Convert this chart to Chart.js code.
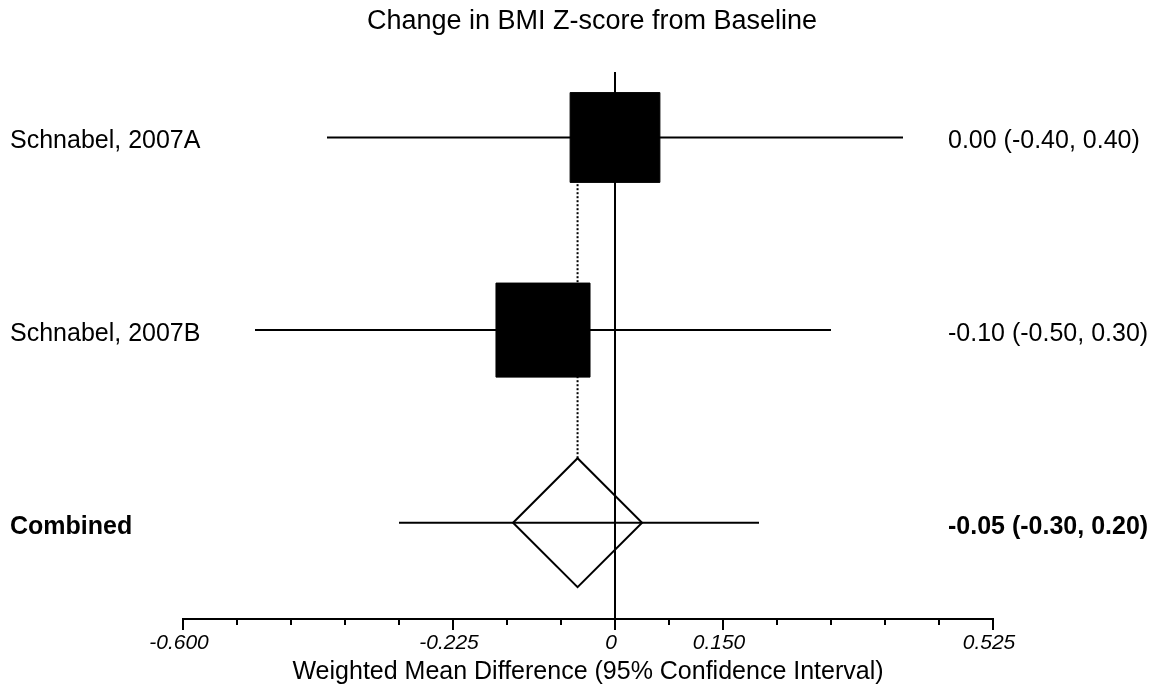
<!DOCTYPE html>
<html>
<head>
<meta charset="utf-8">
<script src="https://cdn.jsdelivr.net/npm/chart.js"></script>
<style>
  html, body { margin: 0; padding: 0; background: #fff; }
  #wrap { width: 1158px; height: 690px; }
</style>
</head>
<body>
<div id="wrap"><canvas id="forest" width="1158" height="690"></canvas></div>
<script>
// study rows, top to bottom
const studies = ['Schnabel, 2007A', 'Schnabel, 2007B', 'Combined'];
const rows = [3, 2, 1];
const estimates = [0.00, -0.10, -0.052];
const lower = [-0.40, -0.50, -0.30];
const upper = [0.40, 0.30, 0.20];
const estLabels = ['0.00 (-0.40, 0.40)', '-0.10 (-0.50, 0.30)', '-0.05 (-0.30, 0.20)'];

// x axis ticks
const tickValues = [-0.600, -0.525, -0.450, -0.375, -0.300, -0.225, -0.150, -0.075,
                    0, 0.075, 0.150, 0.225, 0.300, 0.375, 0.450, 0.525];
const majorTicks = [-0.600, -0.225, 0, 0.150, 0.525];
const majorLabels = ['-0.600', '-0.225', '0', '0.150', '0.525'];

const chartTitle = 'Change in BMI Z-score from Baseline';
const xTitle = 'Weighted Mean Difference (95% Confidence Interval)';

const FONT = '"Liberation Sans", Arial, sans-serif';

// CI lines, one dataset each
const ciSets = studies.map((s, i) => ({
    type: 'line',
    label: s + ' CI',
    data: [{x: lower[i], y: rows[i]}, {x: upper[i], y: rows[i]}],
    borderColor: '#000',
    borderWidth: 2,
    pointRadius: 0,
    order: 3
}));

// filled boxes for the studies
const boxSet = {
    type: 'scatter',
    label: 'studies',
    data: [0, 1].map(i => ({x: estimates[i], y: rows[i]})),
    pointStyle: 'rect',
    pointRadius: [63.5, 66.5],
    backgroundColor: '#000',
    borderColor: '#000',
    borderWidth: 1,
    order: 1
};

// diamond for the pooled estimate
const diamondSet = {
    type: 'scatter',
    label: 'combined',
    data: [{x: estimates[2], y: rows[2]}],
    pointStyle: 'rectRot',
    pointRadius: 64.5,
    backgroundColor: 'rgba(0,0,0,0)',
    borderColor: '#000',
    borderWidth: 2,
    order: 2
};

const forestDecor = {
    id: 'forestDecor',
    beforeDatasetsDraw(chart) {
        const {ctx, chartArea, scales: {x, y}} = chart;
        ctx.save();
        ctx.strokeStyle = '#000';
        // line of no effect
        ctx.lineWidth = 2;
        ctx.beginPath();
        ctx.moveTo(Math.round(x.getPixelForValue(0)), chartArea.top);
        ctx.lineTo(Math.round(x.getPixelForValue(0)), chartArea.bottom);
        ctx.stroke();
        // dotted line from the diamond up to the first study
        const px = x.getPixelForValue(estimates[2]);
        ctx.setLineDash([2, 2]);
        ctx.beginPath();
        ctx.moveTo(px, y.getPixelForValue(rows[2]) - 64.5);
        ctx.lineTo(px, y.getPixelForValue(rows[0]) + 45);
        ctx.stroke();
        ctx.restore();
    },
    afterDraw(chart) {
        const {ctx, chartArea, scales: {x, y}} = chart;
        const base = chartArea.bottom;
        ctx.save();
        ctx.strokeStyle = '#000';
        ctx.fillStyle = '#000';
        ctx.lineWidth = 2;
        // axis line + ticks
        ctx.beginPath();
        ctx.moveTo(x.getPixelForValue(tickValues[0]) - 1, base);
        ctx.lineTo(x.getPixelForValue(tickValues[tickValues.length - 1]) + 1, base);
        tickValues.forEach(v => {
            const p = Math.round(x.getPixelForValue(v));
            const len = majorTicks.includes(v) ? 11 : 6;
            ctx.moveTo(p, base);
            ctx.lineTo(p, base + len);
        });
        ctx.stroke();

        ctx.textAlign = 'center';
        ctx.textBaseline = 'middle';
        ctx.font = 'italic 21px ' + FONT;
        majorTicks.forEach((v, i) => {
            ctx.fillText(majorLabels[i], x.getPixelForValue(v) - 4, base + 24);
        });
        ctx.font = '25px ' + FONT;
        ctx.fillText(xTitle, (chartArea.left + chartArea.right) / 2, base + 53);
        ctx.font = '27px ' + FONT;
        ctx.fillText(chartTitle, (chartArea.left + chartArea.right) / 2 + 4, 22);

        // study labels and estimates
        studies.forEach((s, i) => {
            const py = y.getPixelForValue(rows[i]) + 4;
            ctx.font = (i === 2 ? 'bold ' : '') + '25px ' + FONT;
            ctx.textAlign = 'left';
            ctx.fillText(s, 10, py);
            ctx.fillText(estLabels[i], 948, py);
        });
        ctx.restore();
    }
};

new Chart(document.getElementById('forest'), {
    data: {datasets: [...ciSets, boxSet, diamondSet]},
    options: {
        responsive: false,
        animation: false,
        layout: {padding: {left: 183, right: 165, top: 72, bottom: 71}},
        plugins: {
            legend: {display: false},
            title: {display: false},
            tooltip: {enabled: false}
        },
        scales: {
            x: {type: 'linear', min: -0.6, max: 0.525, display: false},
            y: {type: 'linear', min: 0.5, max: 3.34, display: false}
        }
    },
    plugins: [forestDecor]
});
</script>
</body>
</html>
